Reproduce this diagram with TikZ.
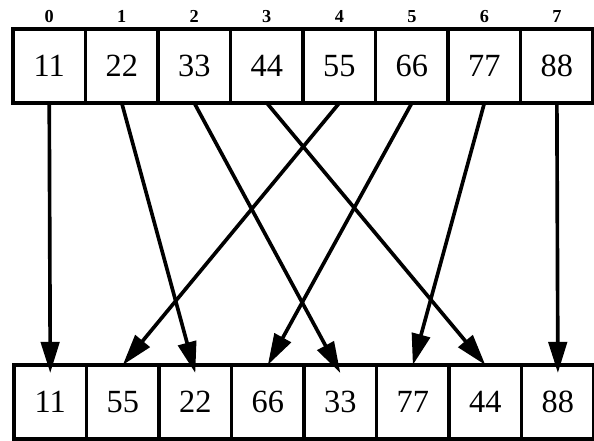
\documentclass[tikz,border=0pt]{standalone}
\usepackage{fontspec}
\setmainfont{Liberation Serif}
\usetikzlibrary{arrows.meta,positioning}

\begin{document}
\begin{tikzpicture}[
    x=0.025cm, y=-0.025cm,
    cell/.style={rectangle, draw, line width=2.4pt, outer sep=0pt, minimum width=1.8125cm, minimum height=1.85cm, font=\fontsize{23}{27}\selectfont},
    idx/.style={inner sep=0pt, font=\fontsize{13}{15}\selectfont\bfseries},
    arrow/.style={-{Triangle[length=0.78cm, width=0.46cm]}, line width=2.6pt}
]
    \useasboundingbox (0,0) rectangle (594,441);

    % input row
    \node[cell] (t0) at (49.25,66) {11};
    \node[cell, right=0pt of t0] (t1) {22};
    \node[cell, right=0pt of t1] (t2) {33};
    \node[cell, right=0pt of t2] (t3) {44};
    \node[cell, right=0pt of t3] (t4) {55};
    \node[cell, right=0pt of t4] (t5) {66};
    \node[cell, right=0pt of t5] (t6) {77};
    \node[cell, right=0pt of t6] (t7) {88};

    % positions
    \node[idx, above=0.15cm of t0] (i0) {0};
    \node[idx, above=0.15cm of t1] (i1) {1};
    \node[idx, above=0.15cm of t2] (i2) {2};
    \node[idx, above=0.15cm of t3] (i3) {3};
    \node[idx, above=0.15cm of t4] (i4) {4};
    \node[idx, above=0.15cm of t5] (i5) {5};
    \node[idx, above=0.15cm of t6] (i6) {6};
    \node[idx, above=0.15cm of t7] (i7) {7};

    % output row
    \node[cell] (b0) at (50.25,402) {11};
    \node[cell, right=0pt of b0] (b1) {55};
    \node[cell, right=0pt of b1] (b2) {22};
    \node[cell, right=0pt of b2] (b3) {66};
    \node[cell, right=0pt of b3] (b4) {33};
    \node[cell, right=0pt of b4] (b5) {77};
    \node[cell, right=0pt of b5] (b6) {44};
    \node[cell, right=0pt of b6] (b7) {88};

    \draw[arrow] (t0.south) -- ([yshift=-0.2cm]b0.north);
    \draw[arrow] (t1.south) -- ([yshift=-0.2cm]b2.north);
    \draw[arrow] (t2.south) -- ([yshift=-0.2cm]b4.north);
    \draw[arrow] (t3.south) -- (b6.north);
    \draw[arrow] (t4.south) -- (b1.north);
    \draw[arrow] (t5.south) -- (b3.north);
    \draw[arrow] (t6.south) -- (b5.north);
    \draw[arrow] (t7.south) -- ([yshift=-0.2cm]b7.north);
\end{tikzpicture}
\end{document}
